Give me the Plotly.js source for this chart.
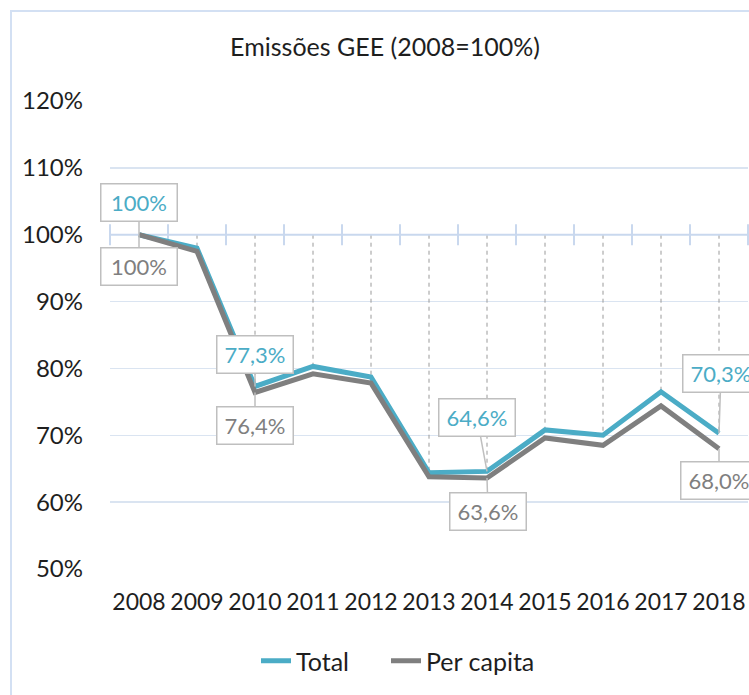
<!DOCTYPE html>
<html>
<head>
<meta charset="utf-8">
<script src="https://cdn.plot.ly/plotly-3.0.1.min.js"></script>
<style>html,body{margin:0;padding:0;background:#fff;}#chart{width:749px;height:695px;}</style>
</head>
<body>
<div id="chart"></div>
<script>
// ---- data ----
var years = ["2008","2009","2010","2011","2012","2013","2014","2015","2016","2017","2018"];
var total = [100, 98.0, 77.3, 80.3, 78.7, 64.4, 64.6, 70.8, 70.0, 76.5, 70.3];
var perCapita = [100, 97.5, 76.4, 79.2, 77.8, 63.8, 63.6, 69.6, 68.5, 74.4, 68.0];
var labelIdx = [0, 2, 6, 10];
var yTicks = [50, 60, 70, 80, 90, 100, 110, 120];
var yTickText = ["50%", "60%", "70%", "80%", "90%", "100%", "110%", "120%"];
var baseLine = 100;

// ---- styles ----
var BLUE = "#4BACC6", GRAY = "#7F7F7F", GRID = "#DAE4F1", AXIS = "#C9D8EE";
var TXT = "#1E1E1E";
var FONT = "Lato, 'Noto Sans', sans-serif";
var totalOffsets = [[0,-32],[0,-32],[-10,-54],[2,-60]];
var pcOffsets = [[0,32],[0,33],[1,33],[0,32]];

var W = 749, H = 695, L = 110, R = 1, T = 101, B = 126;
var pw = W - L - R, ph = H - T - B;
function pxX(px){ return (px - L) / pw; }
function pxY(py){ return (H - B - py) / ph; }

var xs = years.map(function(_, i){ return i; });

// drop lines from baseline to Total values
var dx = [], dy = [];
xs.forEach(function(x, i){ dx.push(x, x, null); dy.push(baseLine, total[i], null); });

// crossing axis at 100% with tick marks at category boundaries
var bx = [], by = [];
for (var i = 0; i <= years.length; i++){ bx.push(i - 0.5); by.push(baseLine); }

var traces = [
  {x: dx, y: dy, mode: "lines", line: {color: "#9A9A9A", width: 1, dash: "4px,4px"}, showlegend: false, hoverinfo: "skip"},
  {x: bx, y: by, mode: "lines+markers", line: {color: AXIS, width: 2}, marker: {symbol: "line-ns-open", size: 15, line: {color: AXIS, width: 2}}, showlegend: false, hoverinfo: "skip", cliponaxis: false},
  {x: xs, y: total, name: "Total", mode: "lines", line: {color: BLUE, width: 5}, legend: "legend"},
  {x: xs, y: perCapita, name: "Per capita", mode: "lines", line: {color: GRAY, width: 5}, legend: "legend2"}
];

function fmt(v){ return (v === 100 ? "100" : v.toFixed(1).replace(".", ",")) + "%"; }

var annotations = [];
labelIdx.forEach(function(idx, k){
  [[total, BLUE, totalOffsets[k]], [perCapita, GRAY, pcOffsets[k]]].forEach(function(s){
    annotations.push({
      x: idx, y: s[0][idx], xref: "x", yref: "y",
      text: fmt(s[0][idx]), showarrow: true, arrowhead: 0, arrowwidth: 1.5, arrowcolor: "#BFBFBF",
      ax: s[2][0], ay: s[2][1], standoff: 0,
      bgcolor: "#FFFFFF", bordercolor: "#BFBFBF", borderwidth: 1.5, borderpad: 2,
      width: 71, height: 32,
      font: {family: FONT, size: 22, color: s[1]}
    });
  });
});

function legendAt(px){
  return {orientation: "h", x: pxX(px), xanchor: "left", y: pxY(661), yanchor: "middle",
          font: {family: FONT, size: 25, color: TXT}, bgcolor: "rgba(0,0,0,0)"};
}

var layout = {
  width: W, height: H,
  margin: {l: L, r: R, t: T, b: B},
  paper_bgcolor: "#FFFFFF", plot_bgcolor: "#FFFFFF",
  font: {family: FONT, color: TXT},
  title: {text: "Emissões GEE (2008=100%)", font: {family: FONT, size: 25, color: TXT},
          x: 385 / W, xref: "container", xanchor: "center", y: 1 - 47 / H, yref: "container", yanchor: "middle"},
  xaxis: {range: [-0.5, years.length - 0.5], tickvals: xs, ticktext: years, showgrid: false, zeroline: false,
          showline: false, ticks: "", tickfont: {family: FONT, size: 23, color: TXT}, ticklabelstandoff: 17, fixedrange: true},
  yaxis: {range: [50, 120], tickvals: yTicks, ticktext: yTickText, showgrid: true, gridcolor: GRID, gridwidth: 1.5,
          zeroline: false, showline: false, ticks: "", tickfont: {family: FONT, size: 24, color: TXT}, ticklabelstandoff: 26, fixedrange: true},
  legend: legendAt(256),
  legend2: legendAt(386),
  annotations: annotations,
  shapes: [{type: "path", xref: "paper", yref: "paper",
            path: "M " + pxX(11) + " " + pxY(H + 5) + " L " + pxX(11) + " " + pxY(11) + " L " + pxX(W + 5) + " " + pxY(11),
            line: {color: "#D3E0F3", width: 2}}],
  showlegend: true
};

Plotly.newPlot("chart", traces, layout, {displayModeBar: false, staticPlot: true});
</script>
</body>
</html>
